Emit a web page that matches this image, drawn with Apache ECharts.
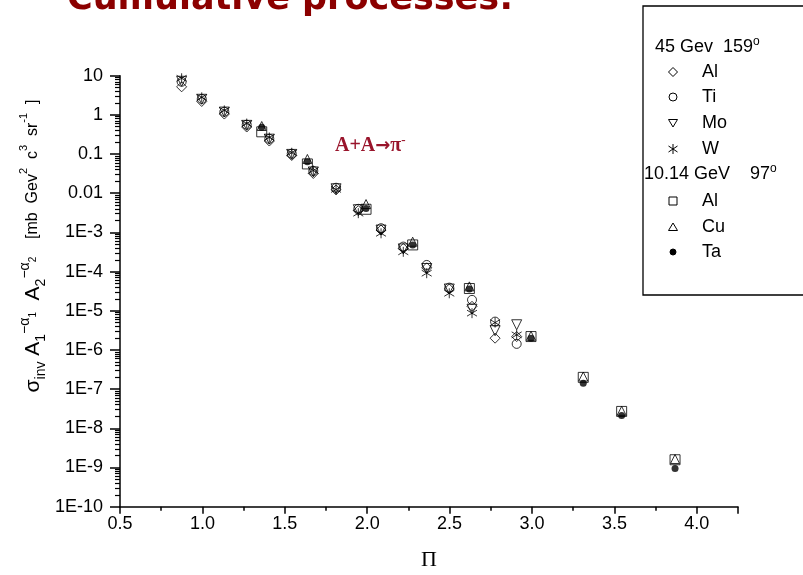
<!DOCTYPE html>
<html><head><meta charset="utf-8">
<script src="https://cdn.jsdelivr.net/npm/echarts@6/dist/echarts.min.js"></script>
<style>html,body{margin:0;padding:0;background:#fff}#c{width:803px;height:575px}</style>
</head><body><div id="c"></div>
<script>
// ---- data ----
const pi45 = [0.874, 0.996, 1.133, 1.269, 1.406, 1.542, 1.673, 1.811, 1.946, 2.084, 2.219, 2.361, 2.498, 2.636, 2.776, 2.907];
const al45 = [5.2, 2.2, 1.05, 0.49, 0.215, 0.092, 0.032, 0.0122, 3.6e-3, 1.15e-3, 3.9e-4, 1.25e-4, 3.6e-5, 1.3e-5, 2.0e-6, 2.2e-6];
const ti45 = [7.0, 2.55, 1.2, 0.56, 0.245, 0.102, 0.037, 0.0138, 4.0e-3, 1.28e-3, 4.35e-4, 1.48e-4, 3.9e-5, 1.9e-5, 5.3e-6, 1.43e-6];
const mo45 = [7.2, 2.5, 1.18, 0.54, 0.24, 0.098, 0.035, 0.013, 3.8e-3, 1.15e-3, 3.8e-4, 1.2e-4, 3.6e-5, 1.1e-5, 3.1e-6, 4.4e-6];
const w45  = [8.6, 2.8, 1.3, 0.6, 0.265, 0.108, 0.038, 0.0125, 3.1e-3, 9.5e-4, 3.2e-4, 9.1e-5, 2.8e-5, 8.7e-6, 5.0e-6, 2.43e-6];
const pi10 = [1.36, 1.637, 1.993, 2.276, 2.620, 2.994, 3.311, 3.544, 3.868];
const al10 = [0.37, 0.056, 3.9e-3, 4.8e-4, 3.7e-5, 2.2e-6, 2.0e-7, 2.7e-8, 1.58e-9];
const cu10 = [0.52, 0.075, 5.3e-3, 5.8e-4, 4.2e-5, 2.3e-6, 2.1e-7, 2.8e-8, 1.65e-9];
const ta10 = [0.48, 0.064, 4.1e-3, 4.8e-4, 3.6e-5, 2.0e-6, 1.42e-7, 2.12e-8, 9.5e-10];
const yTickValues = [1e-10, 1e-9, 1e-8, 1e-7, 1e-6, 1e-5, 1e-4, 1e-3, 0.01, 0.1, 1, 10];
const yTickLabels = ['1E-10', '1E-9', '1E-8', '1E-7', '1E-6', '1E-5', '1E-4', '1E-3', '0.01', '0.1', '1', '10'];
const xTickLabels = ['0.5', '1.0', '1.5', '2.0', '2.5', '3.0', '3.5', '4.0'];

const yMinor = [];
for (let k = -10; k <= 0; k++) for (let m = 2; m <= 9; m++) yMinor.push(m * Math.pow(10, k));

function pairs(xs, ys) { return xs.map((x, i) => [x, ys[i]]); }
function labelFor(v) {
  let best = 0, bd = Infinity;
  yTickValues.forEach((t, i) => { const d = Math.abs(Math.log10(v) - Math.log10(t)); if (d < bd) { bd = d; best = i; } });
  return bd < 0.01 ? yTickLabels[best] : '';
}

const openStyle = { color: 'rgba(0,0,0,0)', borderColor: '#000', borderWidth: 1 };
const star = 'path://M10,0 L10,20 M1,4 L19,16 M1,16 L19,4';
const FONT = 'Liberation Sans';

const chart = echarts.init(document.getElementById('c'), null, { renderer: 'canvas' });
const base = { type: 'scatter', xAxisIndex: 0, yAxisIndex: 0, silent: true, emphasis: { disabled: true }, animation: false };

chart.setOption({
  animation: false,
  backgroundColor: '#fff',
  grid: { left: 120, right: 65, top: 75.7, bottom: 68.3, containLabel: false },
  xAxis: [{
    type: 'value', min: 0.5, max: 4.25, interval: 0.5,
    axisLine: { onZero: false, lineStyle: { color: '#000', width: 1.5 } },
    axisTick: { inside: false, length: 7, lineStyle: { color: '#000', width: 1.5 } },
    minorTick: { show: true, splitNumber: 2, length: 4, lineStyle: { color: '#000', width: 1.5 } },
    splitLine: { show: false },
    axisLabel: { color: '#000', fontFamily: FONT, fontSize: 18, margin: 8, showMaxLabel: false,
      formatter: v => { const i = Math.round((v - 0.5) / 0.5); return Math.abs(v - 0.5 - i * 0.5) < 1e-6 && xTickLabels[i] ? xTickLabels[i] : ''; } }
  }],
  yAxis: [{
    type: 'log', logBase: 10, min: 1e-10, max: 10, position: 'left',
    axisLine: { onZero: false, lineStyle: { color: '#000', width: 1.5 } },
    axisTick: { inside: false, length: 10, customValues: yTickValues, lineStyle: { color: '#000', width: 1.5 } },
    splitLine: { show: false },
    axisLabel: { color: '#000', fontFamily: FONT, fontSize: 18, margin: 17, customValues: yTickValues, formatter: v => labelFor(v) }
  }, {
    type: 'log', logBase: 10, min: 1e-10, max: 10, position: 'left',
    axisLine: { show: false, onZero: false },
    axisTick: { inside: false, length: 5, customValues: yMinor, lineStyle: { color: '#000', width: 1.2 } },
    splitLine: { show: false },
    axisLabel: { show: false }
  }],
  series: [
    Object.assign({}, base, { name: 'Al 45', data: pairs(pi45, al45), symbol: 'diamond', symbolSize: 10, itemStyle: openStyle }),
    Object.assign({}, base, { name: 'Ti 45', data: pairs(pi45, ti45), symbol: 'circle', symbolSize: 9, itemStyle: openStyle }),
    Object.assign({}, base, { name: 'Mo 45', data: pairs(pi45, mo45), symbol: 'triangle', symbolRotate: 180, symbolSize: 10, itemStyle: openStyle }),
    Object.assign({}, base, { name: 'W 45', data: pairs(pi45, w45), symbol: star, symbolSize: [10, 10], itemStyle: openStyle }),
    Object.assign({}, base, { name: 'Al 10', data: pairs(pi10, al10), symbol: 'rect', symbolSize: 10, itemStyle: openStyle }),
    Object.assign({}, base, { name: 'Cu 10', data: pairs(pi10, cu10), symbol: 'triangle', symbolSize: 9, itemStyle: openStyle }),
    Object.assign({}, base, { name: 'Ta 10', data: pairs(pi10, ta10), symbol: 'circle', symbolSize: 7, itemStyle: { color: '#000' } })
  ],
  graphic: [
    { type: 'text', x: 67, y: 17, style: { text: 'Cumulative processes:', font: 'bold 35px "DejaVu Sans"', fill: '#8B0000', textAlign: 'left', textVerticalAlign: 'bottom', align: 'left', verticalAlign: 'bottom' } },
    { type: 'text', x: 335, y: 146, style: {
        text: '{a|A+A}{r|→}{a|π}{b|-}', align: 'left', verticalAlign: 'middle', textAlign: 'left', textVerticalAlign: 'middle',
        rich: {
          a: { fontFamily: 'Liberation Serif', fontWeight: 'bold', fontSize: 20, lineHeight: 24, fill: '#99142b', color: '#99142b', verticalAlign: 'middle' },
          r: { fontFamily: 'DejaVu Sans', fontWeight: 'bold', fontSize: 18, lineHeight: 24, fill: '#99142b', color: '#99142b', verticalAlign: 'middle' },
          b: { fontFamily: 'Liberation Serif', fontWeight: 'bold', fontSize: 13, lineHeight: 12, fill: '#99142b', color: '#99142b', verticalAlign: 'top' }
        } } },
    { type: 'text', x: 33, y: 246, rotation: Math.PI / 2, style: {
        text: '{m|σ}{s|inv}{m| A}{s|1}{p|−α}{ps|1}{m|  A}{s|2}{p|−α}{ps|2}{b|    [mb  Gev}{bp|2}{b|  c}{bp|3}{b|  sr}{bp|-1}{b|  ]}',
        align: 'center', verticalAlign: 'middle', textAlign: 'center', textVerticalAlign: 'middle',
        rich: {
          m: { fontFamily: FONT, fontSize: 21, lineHeight: 30, verticalAlign: 'middle', color: '#000', fill: '#000' },
          s: { fontFamily: FONT, fontSize: 14, lineHeight: 14, verticalAlign: 'bottom', color: '#000', fill: '#000' },
          p: { fontFamily: FONT, fontSize: 14, lineHeight: 16, verticalAlign: 'top', color: '#000', fill: '#000' },
          ps: { fontFamily: FONT, fontSize: 10, lineHeight: 14, verticalAlign: 'middle', color: '#000', fill: '#000' },
          b: { fontFamily: FONT, fontSize: 16, lineHeight: 26, verticalAlign: 'middle', color: '#000', fill: '#000' },
          bp: { fontFamily: FONT, fontSize: 11, lineHeight: 14, verticalAlign: 'top', color: '#000', fill: '#000' }
        } } },
    { type: 'text', x: 429, y: 560, style: { text: 'Π', font: '22px "Liberation Serif"', fill: '#000', align: 'center', verticalAlign: 'middle', textAlign: 'center', textVerticalAlign: 'middle' } },
    // legend box
    { type: 'rect', shape: { x: 643, y: 6, width: 200, height: 289 }, style: { fill: '#fff', stroke: '#000', lineWidth: 1.3 }, z: 10 },
    { type: 'text', x: 655, y: 47, z: 11, style: { text: '45 Gev  159{o|o}', align: 'left', verticalAlign: 'middle', textAlign: 'left', textVerticalAlign: 'middle', fontFamily: FONT, fontSize: 18, fill: '#000',
        rich: { o: { fontFamily: FONT, fontSize: 12, lineHeight: 22, verticalAlign: 'top', fill: '#000', color: '#000' } } } },
    { type: 'text', x: 644, y: 174, z: 11, style: { text: '10.14 GeV    97{o|o}', align: 'left', verticalAlign: 'middle', textAlign: 'left', textVerticalAlign: 'middle', fontFamily: FONT, fontSize: 18, fill: '#000',
        rich: { o: { fontFamily: FONT, fontSize: 12, lineHeight: 22, verticalAlign: 'top', fill: '#000', color: '#000' } } } },
    { type: 'text', x: 702, y: 72, z: 11, style: { text: 'Al', font: '18px "Liberation Sans"', fill: '#000', verticalAlign: 'middle', textVerticalAlign: 'middle' } },
    { type: 'text', x: 702, y: 97, z: 11, style: { text: 'Ti', font: '18px "Liberation Sans"', fill: '#000', verticalAlign: 'middle', textVerticalAlign: 'middle' } },
    { type: 'text', x: 702, y: 123, z: 11, style: { text: 'Mo', font: '18px "Liberation Sans"', fill: '#000', verticalAlign: 'middle', textVerticalAlign: 'middle' } },
    { type: 'text', x: 702, y: 149, z: 11, style: { text: 'W', font: '18px "Liberation Sans"', fill: '#000', verticalAlign: 'middle', textVerticalAlign: 'middle' } },
    { type: 'text', x: 702, y: 201, z: 11, style: { text: 'Al', font: '18px "Liberation Sans"', fill: '#000', verticalAlign: 'middle', textVerticalAlign: 'middle' } },
    { type: 'text', x: 702, y: 227, z: 11, style: { text: 'Cu', font: '18px "Liberation Sans"', fill: '#000', verticalAlign: 'middle', textVerticalAlign: 'middle' } },
    { type: 'text', x: 702, y: 252, z: 11, style: { text: 'Ta', font: '18px "Liberation Sans"', fill: '#000', verticalAlign: 'middle', textVerticalAlign: 'middle' } },
    { type: 'polygon', z: 11, shape: { points: [[673, 67.5], [677.5, 72], [673, 76.5], [668.5, 72]] }, style: { fill: 'none', stroke: '#000', lineWidth: 1 } },
    { type: 'circle', z: 11, shape: { cx: 673, cy: 97, r: 4 }, style: { fill: 'none', stroke: '#000', lineWidth: 1 } },
    { type: 'polygon', z: 11, shape: { points: [[668.5, 119.5], [677.5, 119.5], [673, 127]] }, style: { fill: 'none', stroke: '#000', lineWidth: 1 } },
    { type: 'line', z: 11, shape: { x1: 673, y1: 144, x2: 673, y2: 154 }, style: { stroke: '#000', lineWidth: 1 } },
    { type: 'line', z: 11, shape: { x1: 668.5, y1: 146, x2: 677.5, y2: 152 }, style: { stroke: '#000', lineWidth: 1 } },
    { type: 'line', z: 11, shape: { x1: 668.5, y1: 152, x2: 677.5, y2: 146 }, style: { stroke: '#000', lineWidth: 1 } },
    { type: 'rect', z: 11, shape: { x: 669, y: 197, width: 8, height: 8 }, style: { fill: 'none', stroke: '#000', lineWidth: 1 } },
    { type: 'polygon', z: 11, shape: { points: [[673, 223], [677.5, 230.5], [668.5, 230.5]] }, style: { fill: 'none', stroke: '#000', lineWidth: 1 } },
    { type: 'circle', z: 11, shape: { cx: 673, cy: 252, r: 3 }, style: { fill: '#000', stroke: '#000', lineWidth: 1 } }
  ]
});
</script>
</body></html>
